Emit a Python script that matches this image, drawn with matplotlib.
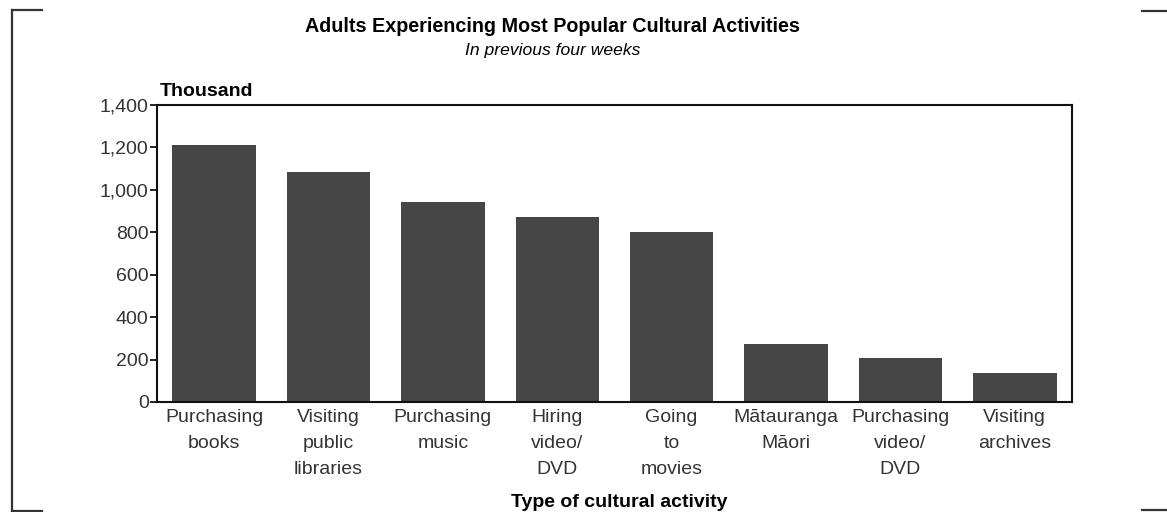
import numpy as np
import matplotlib
matplotlib.use("Agg")
import matplotlib.pyplot as plt
from matplotlib.lines import Line2D

# data (thousands of adults)
activities = ["Purchasing\nbooks", "Visiting\npublic\nlibraries", "Purchasing\nmusic",
              "Hiring\nvideo/\nDVD", "Going\nto\nmovies", "M\u0101tauranga\nM\u0101ori",
              "Purchasing\nvideo/\nDVD", "Visiting\narchives"]
adults = [1210, 1085, 945, 870, 803, 272, 206, 138]
yticks = [0, 200, 400, 600, 800, 1000, 1200, 1400]

plt.rcParams['font.family'] = ['Liberation Sans', 'DejaVu Sans']

W, H = 1167, 512
fig = plt.figure(figsize=(W / 100, H / 100), dpi=100)
ax = fig.add_axes([157 / W, 1 - 402 / H, (1072 - 157) / W, (402 - 105) / H])

x = np.arange(len(activities))
ax.bar(x, adults, width=0.73, color='#464646')

ax.set_xlim(-0.5, len(activities) - 0.5)
ax.set_ylim(0, 1400)
ax.set_yticks(yticks)
ax.set_yticklabels([f"{v:,}" for v in yticks])
ax.set_xticks(x)
ax.set_xticklabels(activities, linespacing=1.68)
ax.tick_params(axis='y', direction='out', length=5, width=1.2, pad=1,
               labelsize=14, labelcolor='#333333')
ax.tick_params(axis='x', length=0, pad=5, labelsize=14, labelcolor='#333333')
for s in ax.spines.values():
    s.set_linewidth(1.5)
    s.set_color('#111111')

# titles and axis captions
fig.text(552 / W, 1 - 32 / H, "Adults Experiencing Most Popular Cultural Activities",
         ha='center', va='baseline', fontsize=14.2, fontweight='bold')
fig.text(553 / W, 1 - 55 / H, "In previous four weeks", ha='center', va='baseline',
         fontsize=12.6, style='italic')
fig.text(160 / W, 1 - 96 / H, "Thousand", ha='left', va='baseline',
         fontsize=14, fontweight='bold')
fig.text(619 / W, 1 - 507 / H, "Type of cultural activity", ha='center', va='baseline',
         fontsize=14, fontweight='bold')

# corner brackets of the page frame
def seg(x0, y0, x1, y1):
    fig.add_artist(Line2D([x0 / W, x1 / W], [1 - y0 / H, 1 - y1 / H],
                          transform=fig.transFigure, color='#333333', lw=1.6))

seg(12, 10, 12, 511)
seg(12, 10, 42, 10)
seg(12, 511, 42, 511)
seg(1142, 11, 1167, 11)
seg(1142, 510, 1167, 510)

fig.savefig("out.png", dpi=100)
